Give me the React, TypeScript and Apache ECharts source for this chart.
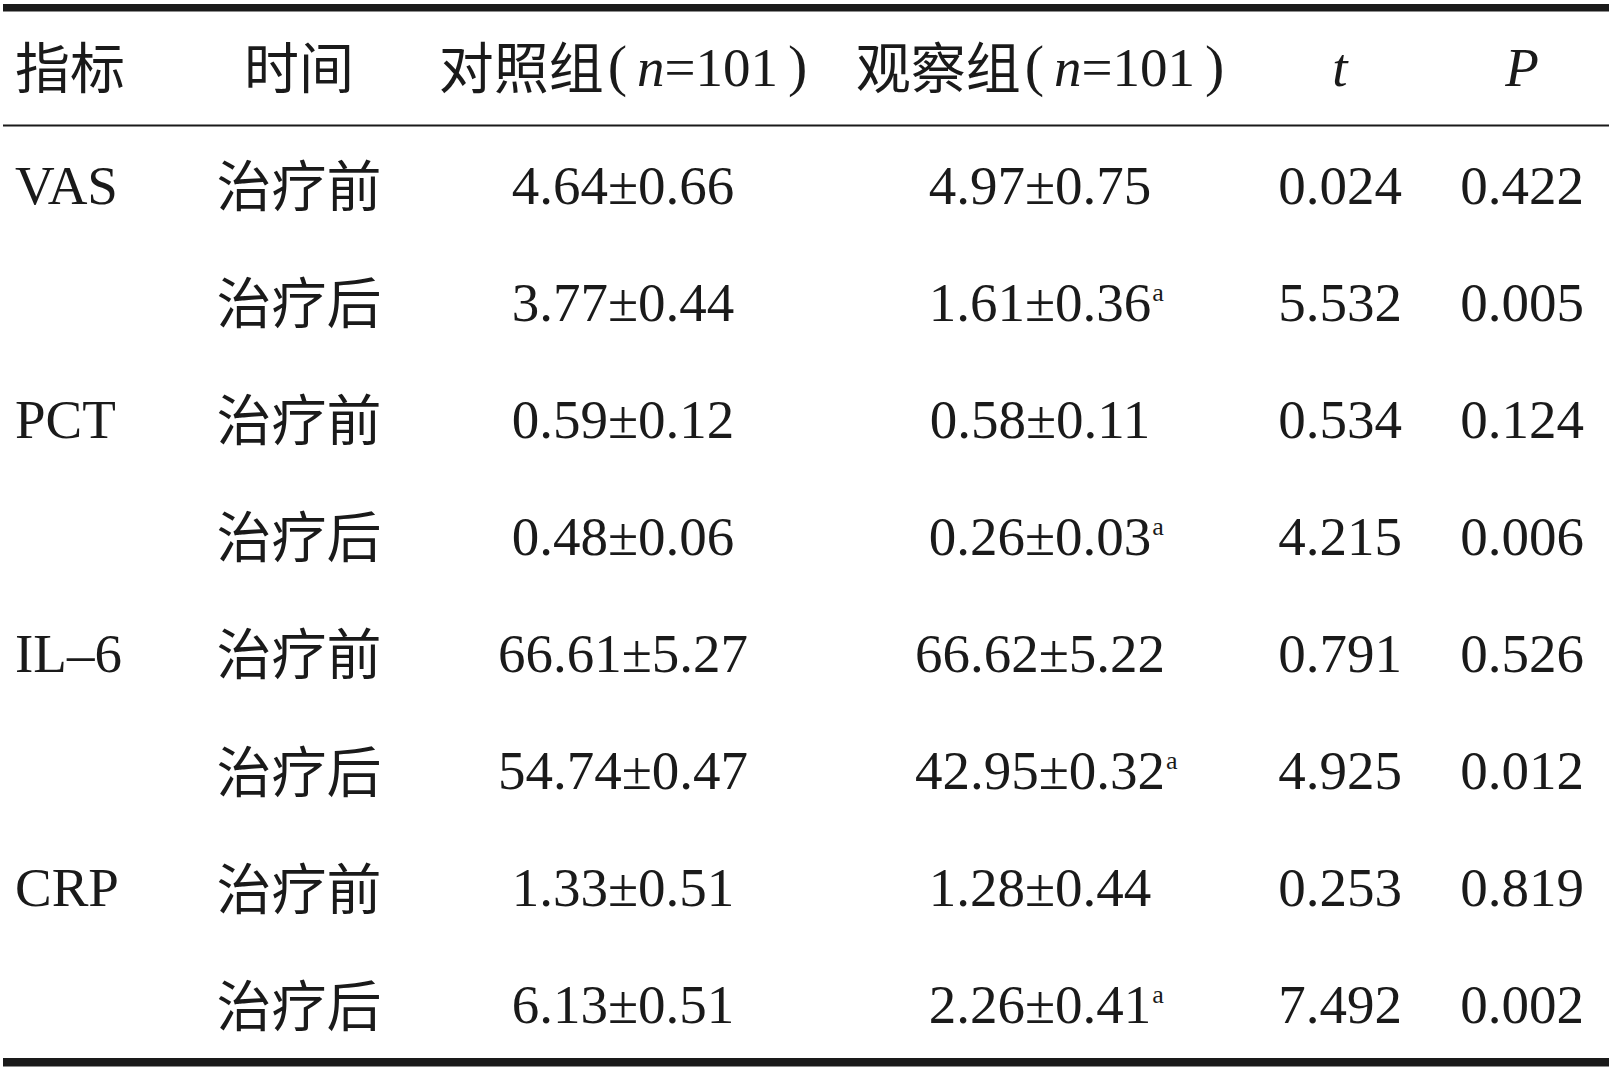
import React, { useEffect, useRef } from "react";
import * as echarts from "echarts";

// ---- data ----
const headerLabels = ["指标", "时间", "对照组", "观察组", "t", "P"];
const groupN = [101, 101];
const indicators = ["VAS", "PCT", "IL–6", "CRP"];
const times = ["治疗前", "治疗后"];
const ctrlMean = [4.64, 3.77, 0.59, 0.48, 66.61, 54.74, 1.33, 6.13];
const ctrlSD = [0.66, 0.44, 0.12, 0.06, 5.27, 0.47, 0.51, 0.51];
const obsMean = [4.97, 1.61, 0.58, 0.26, 66.62, 42.95, 1.28, 2.26];
const obsSD = [0.75, 0.36, 0.11, 0.03, 5.22, 0.32, 0.44, 0.41];
const obsMark = ["", "a", "", "a", "", "a", "", "a"];
const tValues = [0.024, 5.532, 0.534, 4.215, 0.791, 4.925, 0.253, 7.492];
const pValues = [0.422, 0.005, 0.124, 0.006, 0.526, 0.012, 0.819, 0.002];

// ---- layout / style ----
const W = 1616;
const H = 1077;
const INK = "#1a1a1a";
const SERIF = '"Liberation Serif", "Times New Roman", serif';
const CJK = '"Noto Sans CJK SC", "Noto Sans CJK JP", sans-serif';
const FS = 55;
const COLX = [15, 299, 623, 1040, 1340, 1522];
const HEADER_Y = 67;
const ROW0_Y = 185;
const ROW_STEP = 117.1;
const CJK_DY = -3;
const LEFT = 3;
const RIGHT = 1609;

function measure(text: string, font: string): number {
  const c = document.createElement("canvas");
  const ctx = c.getContext("2d");
  if (!ctx) return text.length * FS * 0.5;
  ctx.font = font;
  return ctx.measureText(text).width;
}

function txt(text: string, x: number, y: number, family: string, align: string, extra: any = {}) {
  return {
    type: "text",
    x,
    y,
    silent: true,
    style: {
      text,
      fill: INK,
      fontSize: FS,
      fontFamily: family,
      align,
      textAlign: align,
      verticalAlign: "middle",
      textVerticalAlign: "middle",
      ...extra,
    },
  };
}

function groupHeader(name: string, n: number, x: number) {
  const base = { fontSize: FS, fill: INK, lineHeight: 64, verticalAlign: "middle" };
  return {
    type: "text",
    x,
    y: HEADER_Y,
    silent: true,
    style: {
      text: `{c|${name}}{p|(}{i|n}{r|=${n}}{q|)}`,
      align: "center",
      textAlign: "center",
      verticalAlign: "middle",
      textVerticalAlign: "middle",
      rich: {
        c: { ...base, fontFamily: CJK, padding: [0, 0, 6, 0] },
        p: { ...base, fontFamily: SERIF, fontSize: 58, padding: [0, 10, 4, 4] },
        i: { ...base, fontFamily: SERIF, fontStyle: "italic" },
        r: { ...base, fontFamily: SERIF },
        q: { ...base, fontFamily: SERIF, fontSize: 58, padding: [0, 0, 4, 10] },
      },
    },
  };
}

function buildGraphics() {
  const els: any[] = [];
  // rules
  els.push({ type: "rect", silent: true, shape: { x: LEFT, y: 4, width: RIGHT - LEFT, height: 7.5 }, style: { fill: INK } });
  els.push({ type: "rect", silent: true, shape: { x: LEFT, y: 124.5, width: RIGHT - LEFT, height: 2 }, style: { fill: INK } });
  els.push({ type: "rect", silent: true, shape: { x: LEFT, y: 1058, width: RIGHT - LEFT, height: 8.5 }, style: { fill: INK } });

  // header
  els.push(txt(headerLabels[0], COLX[0], HEADER_Y + CJK_DY, CJK, "left"));
  els.push(txt(headerLabels[1], COLX[1], HEADER_Y + CJK_DY, CJK, "center"));
  els.push(groupHeader(headerLabels[2], groupN[0], COLX[2]));
  els.push(groupHeader(headerLabels[3], groupN[1], COLX[3]));
  els.push(txt(headerLabels[4], COLX[4], HEADER_Y, SERIF, "center", { fontStyle: "italic" }));
  els.push(txt(headerLabels[5], COLX[5], HEADER_Y, SERIF, "center", { fontStyle: "italic" }));

  const numFont = `${FS}px ${SERIF}`;
  for (let i = 0; i < ctrlMean.length; i++) {
    const y = ROW0_Y + i * ROW_STEP;
    if (i % 2 === 0) {
      els.push(txt(indicators[i / 2], COLX[0], y, SERIF, "left"));
    }
    els.push(txt(times[i % 2], COLX[1], y + CJK_DY, CJK, "center"));
    els.push(txt(`${ctrlMean[i].toFixed(2)}±${ctrlSD[i].toFixed(2)}`, COLX[2], y, SERIF, "center"));
    const obsText = `${obsMean[i].toFixed(2)}±${obsSD[i].toFixed(2)}`;
    els.push(txt(obsText, COLX[3], y, SERIF, "center"));
    if (obsMark[i]) {
      const w = measure(obsText, numFont);
      els.push(txt(obsMark[i], COLX[3] + w / 2 + 1, y - 10, SERIF, "left", { fontSize: 26 }));
    }
    els.push(txt(tValues[i].toFixed(3), COLX[4], y, SERIF, "center"));
    els.push(txt(pValues[i].toFixed(3), COLX[5], y, SERIF, "center"));
  }
  return els;
}

export default function App() {
  const ref = useRef<HTMLDivElement>(null);
  useEffect(() => {
    if (!ref.current) return;
    const chart = echarts.init(ref.current, null, { renderer: "svg", width: W, height: H });
    chart.setOption({
      animation: false,
      backgroundColor: "#ffffff",
      graphic: { elements: buildGraphics() },
    });
    return () => chart.dispose();
  }, []);
  return (
    <div
      ref={ref}
      style={{ position: "absolute", left: 0, top: 0, width: W, height: H, background: "#ffffff" }}
    />
  );
}
